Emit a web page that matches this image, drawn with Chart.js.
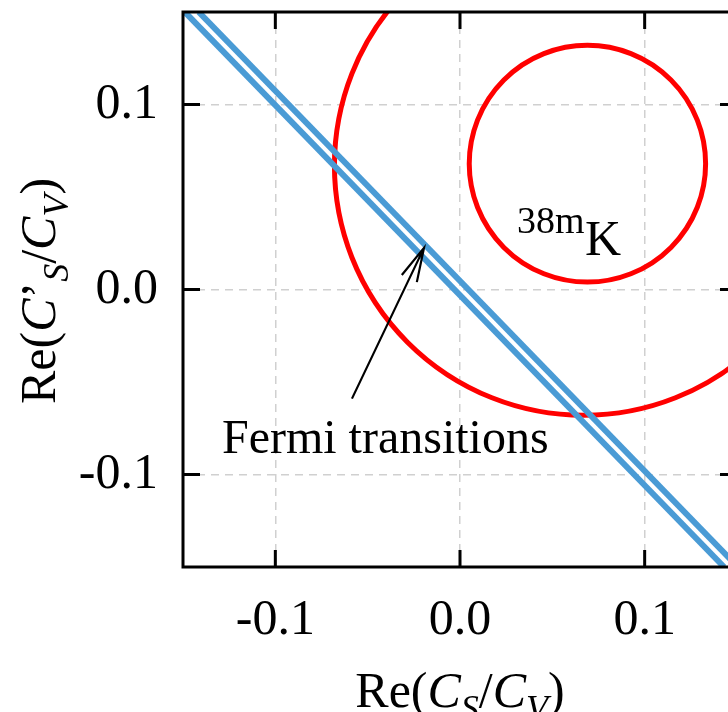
<!DOCTYPE html>
<html>
<head>
<meta charset="utf-8">
<script src="https://cdn.jsdelivr.net/npm/chart.js@4.4.1/dist/chart.umd.min.js"></script>
<style>
  html, body { margin: 0; padding: 0; background: #fff; overflow: hidden; }
  #wrap { width: 744px; height: 712px; }
</style>
</head>
<body>
<div id="wrap"><canvas id="plot" width="744" height="712"></canvas></div>
<script>
const xTicks = [-0.1, 0.0, 0.1];
const yTicks = [-0.1, 0.0, 0.1];

// Fermi transitions band, drawn as its two edge lines
const bandLowX = [-0.149, 0.143];
const bandLowY = [0.15, -0.15];
const bandHighX = [-0.1415, 0.1505];
const bandHighY = [0.15, -0.15];

// 38mK allowed regions (centre and radius in data units)
const ringCx = [0.069, 0.067];
const ringCy = [0.068, 0.067];
const ringR = [0.064, 0.135];

const SERIF = '"Liberation Serif", "Times New Roman", serif';
const BLUE = '#4a9bd5';

function toPoints(xs, ys) {
    return xs.map((v, i) => ({ x: v, y: ys[i] }));
}

// draws a run of text pieces with mixed fonts / subscripts
function drawRich(ctx, parts, x, y, align) {
    let total = 0;
    parts.forEach(p => {
        ctx.font = p.font;
        p.w = ctx.measureText(p.t).width;
        total += p.w;
    });
    let cx = align === 'center' ? x - total / 2 : x;
    parts.forEach(p => {
        ctx.font = p.font;
        ctx.fillText(p.t, cx, y + (p.dy || 0));
        cx += p.w;
    });
}

const up = `50px ${SERIF}`;
const it = `italic 50px ${SERIF}`;
const sub = `italic 36px ${SERIF}`;

const xTitle = [
    { t: 'Re(', font: up }, { t: 'C', font: it }, { t: 'S', font: sub, dy: 13 },
    { t: '/', font: up }, { t: 'C', font: it }, { t: 'V', font: sub, dy: 13 },
    { t: ')', font: up }
];
const yTitle = [
    { t: 'Re(', font: up }, { t: 'C', font: it }, { t: '\u2019', font: up },
    { t: 'S', font: sub, dy: 13 }, { t: '/', font: up }, { t: 'C', font: it },
    { t: 'V', font: sub, dy: 13 }, { t: ')', font: up }
];

const decor = {
    id: 'decor',
    beforeDatasetsDraw(chart) {
        const { ctx, chartArea: a, scales: { x, y } } = chart;
        const kx = x.getPixelForValue(1) - x.getPixelForValue(0);
        const ky = y.getPixelForValue(0) - y.getPixelForValue(1);
        ctx.save();
        ctx.beginPath();
        ctx.rect(a.left, a.top, a.right - a.left, a.bottom - a.top);
        ctx.clip();
        ctx.strokeStyle = '#ff0000';
        ctx.lineWidth = 5;
        ringCx.forEach((c, i) => {
            ctx.beginPath();
            ctx.ellipse(x.getPixelForValue(c), y.getPixelForValue(ringCy[i]),
                ringR[i] * kx, ringR[i] * ky, 0, 0, Math.PI * 2);
            ctx.stroke();
        });
        ctx.restore();
    },
    afterDatasetsDraw(chart) {
        const { ctx, chartArea: a, scales: { x, y } } = chart;
        ctx.save();
        ctx.fillStyle = '#000';
        ctx.strokeStyle = '#000';

        // arrow pointing at the band
        const tx = x.getPixelForValue(-0.0195), ty = y.getPixelForValue(0.0225);
        const sx = x.getPixelForValue(-0.0585), sy = y.getPixelForValue(-0.0590);
        ctx.lineWidth = 2.2;
        ctx.beginPath();
        ctx.moveTo(sx, sy);
        ctx.lineTo(tx, ty);
        const ang = Math.atan2(sy - ty, sx - tx);
        const hl = 35, hw = 0.24;
        ctx.moveTo(tx + hl * Math.cos(ang - hw), ty + hl * Math.sin(ang - hw));
        ctx.lineTo(tx, ty);
        ctx.lineTo(tx + hl * Math.cos(ang + hw), ty + hl * Math.sin(ang + hw));
        ctx.stroke();

        ctx.textBaseline = 'alphabetic';
        ctx.textAlign = 'left';
        ctx.font = `48px ${SERIF}`;
        ctx.fillText('Fermi transitions', x.getPixelForValue(-0.1289), y.getPixelForValue(-0.0884));
        ctx.font = `38px ${SERIF}`;
        ctx.fillText('38m', x.getPixelForValue(0.0309), y.getPixelForValue(0.0305));
        ctx.font = `50px ${SERIF}`;
        ctx.fillText('K', x.getPixelForValue(0.0677), y.getPixelForValue(0.0186));

        // frame with inward ticks on all four sides
        ctx.lineWidth = 3;
        ctx.strokeRect(a.left, a.top, a.right - a.left, a.bottom - a.top);
        const tl = 17;
        ctx.beginPath();
        xTicks.forEach(v => {
            const px = x.getPixelForValue(v);
            ctx.moveTo(px, a.bottom); ctx.lineTo(px, a.bottom - tl);
            ctx.moveTo(px, a.top); ctx.lineTo(px, a.top + tl);
        });
        yTicks.forEach(v => {
            const py = y.getPixelForValue(v);
            ctx.moveTo(a.left, py); ctx.lineTo(a.left + tl, py);
            ctx.moveTo(a.right, py); ctx.lineTo(a.right - tl, py);
        });
        ctx.stroke();
        ctx.restore();
    },
    afterDraw(chart) {
        const { ctx, chartArea: a } = chart;
        ctx.save();
        ctx.fillStyle = '#000';
        ctx.textBaseline = 'alphabetic';
        drawRich(ctx, xTitle, (a.left + a.right) / 2, 707, 'center');
        ctx.translate(55, 291);
        ctx.rotate(-Math.PI / 2);
        drawRich(ctx, yTitle, 0, 0, 'center');
        ctx.restore();
    }
};

new Chart(document.getElementById('plot'), {
    type: 'scatter',
    data: {
        datasets: [
            { data: toPoints(bandLowX, bandLowY) },
            { data: toPoints(bandHighX, bandHighY) }
        ].map(d => Object.assign(d, {
            showLine: true,
            borderColor: BLUE,
            borderWidth: 6,
            pointRadius: 0,
            fill: false
        }))
    },
    options: {
        responsive: false,
        animation: false,
        layout: { padding: { top: 12, right: 7, left: 0, bottom: 0 } },
        plugins: { legend: { display: false }, tooltip: { enabled: false } },
        scales: {
            x: {
                type: 'linear', min: -0.15, max: 0.15,
                afterBuildTicks: s => { s.ticks = xTicks.map(v => ({ value: v })); },
                afterFit: s => { s.height = 145; s.paddingLeft = 0; s.paddingRight = 0; },
                ticks: {
                    color: '#000', padding: 24,
                    font: { family: SERIF, size: 50 },
                    callback: v => v.toFixed(1)
                },
                grid: { color: '#d0d0d0', lineWidth: 1.5, drawTicks: false },
                border: { display: false, dash: [8, 6] }
            },
            y: {
                type: 'linear', min: -0.15, max: 0.15,
                afterBuildTicks: s => { s.ticks = yTicks.map(v => ({ value: v })); },
                afterFit: s => { s.width = 183; s.paddingTop = 0; s.paddingBottom = 0; },
                ticks: {
                    color: '#000', padding: 25,
                    font: { family: SERIF, size: 50 },
                    callback: v => v.toFixed(1)
                },
                grid: { color: '#d0d0d0', lineWidth: 1.5, drawTicks: false },
                border: { display: false, dash: [8, 6] }
            }
        }
    },
    plugins: [decor]
});
</script>
</body>
</html>
